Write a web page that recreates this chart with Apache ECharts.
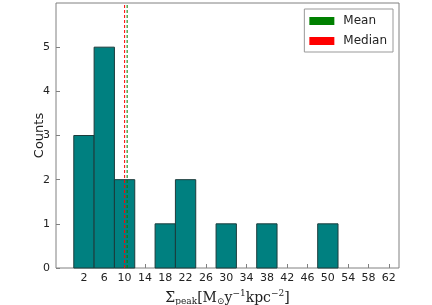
<!DOCTYPE html>
<html>
<head>
<meta charset="utf-8">
<script src="https://cdn.jsdelivr.net/npm/echarts@6/dist/echarts.min.js"></script>
<style>html,body{margin:0;padding:0;background:#fff}#c{width:432px;height:305px}</style>
</head>
<body>
<div id="c"></div>
<script>
// Histogram data
const binEdges = [0, 4, 8, 12, 16, 20, 24, 28, 32, 36, 40, 44, 48, 52, 56, 60, 64];
const counts = [3, 5, 2, 0, 1, 2, 0, 1, 0, 1, 0, 0, 1, 0, 0, 0];
const xTickLabels = [2, 6, 10, 14, 18, 22, 26, 30, 34, 38, 42, 46, 50, 54, 58, 62];
const yTickLabels = [0, 1, 2, 3, 4, 5];
const meanValue = 10.5;
const medianValue = 10.0;

const barData = [];
for (let i = 0; i < counts.length; i++) {
  if (counts[i] > 0) barData.push([binEdges[i], binEdges[i + 1], counts[i]]);
}

const chart = echarts.init(document.getElementById('c'), null, {renderer: 'canvas'});
const axisColor = '#808080';
const txt = '#222';
chart.setOption({
  animation: false,
  grid: {left: 56, right: 33, top: 3, bottom: 37, show: true, borderColor: axisColor, borderWidth: 1,
    backgroundColor: 'transparent', containLabel: false, outerBoundsMode: 'none'},
  legend: {
    right: 39, top: 9,
    orient: 'vertical',
    icon: 'rect',
    itemWidth: 25, itemHeight: 8, itemGap: 8,
    borderColor: '#999', borderWidth: 1, borderRadius: 0,
    padding: [6, 6, 5, 5],
    textStyle: {fontFamily: 'DejaVu Sans', fontSize: 12, color: txt, padding: [0, 0, 0, 4]},
    data: [
      {name: 'Mean', itemStyle: {color: '#008000'}},
      {name: 'Median', itemStyle: {color: '#ff0000'}}
    ]
  },
  xAxis: {
    type: 'value', min: -3.5, max: 64,
    splitLine: {show: false},
    axisLine: {show: false, onZero: false},
    axisTick: {show: true, inside: true, length: 4, lineStyle: {color: axisColor}, customValues: xTickLabels},
    axisLabel: {customValues: xTickLabels, fontFamily: 'DejaVu Sans', fontSize: 11, color: txt, margin: 5},
    name: '{s|Σ}{sub|peak}{s|[M}{sub|⊙}{s|y}{sup|−1}{s|kpc}{sup|−2}{s|]}',
    nameLocation: 'middle', nameGap: 21, nameMoveOverlap: false,
    nameTextStyle: {
      rich: {
        s: {fontFamily: 'DejaVu Serif', fontSize: 14, color: txt, lineHeight: 18, verticalAlign: 'middle'},
        sub: {fontFamily: 'DejaVu Serif', fontSize: 9, color: txt, lineHeight: 14, padding: [7, 0, 0, 0], verticalAlign: 'middle'},
        sup: {fontFamily: 'DejaVu Serif', fontSize: 9, color: txt, lineHeight: 14, padding: [0, 0, 9, 0], verticalAlign: 'middle'}
      }
    }
  },
  yAxis: {
    type: 'value', min: 0, max: 6, interval: 1,
    splitLine: {show: false},
    axisLine: {show: false, onZero: false},
    axisTick: {show: true, inside: true, length: 4, lineStyle: {color: axisColor}},
    axisLabel: {fontFamily: 'DejaVu Sans', fontSize: 11, color: txt, margin: 6,
      showMaxLabel: false},
    name: 'Counts', nameLocation: 'middle', nameGap: 10, nameRotate: 90, nameMoveOverlap: false,
    nameTextStyle: {fontFamily: 'DejaVu Sans', fontSize: 13, color: txt}
  },
  series: [
    {
      type: 'custom',
      data: barData,
      encode: {x: [0, 1], y: 2},
      renderItem: function (params, api) {
        const p0 = api.coord([api.value(0), api.value(2)]);
        const p1 = api.coord([api.value(1), 0]);
        return {
          type: 'rect',
          shape: {x: p0[0], y: p0[1], width: p1[0] - p0[0], height: p1[1] - p0[1]},
          style: {fill: '#008080', stroke: '#1c3c3c', lineWidth: 1}
        };
      },
      z: 2
    },
    {
      name: 'Mean', type: 'line', data: [[meanValue, 0], [meanValue, 6]],
      symbol: 'none', lineStyle: {color: '#008000', width: 1, type: [3, 2]}, itemStyle: {color: '#008000'}, z: 3
    },
    {
      name: 'Median', type: 'line', data: [[medianValue, 0], [medianValue, 6]],
      symbol: 'none', lineStyle: {color: '#ff0000', width: 1, type: [3, 2]}, itemStyle: {color: '#ff0000'}, z: 3
    }
  ]
});
</script>
</body>
</html>
